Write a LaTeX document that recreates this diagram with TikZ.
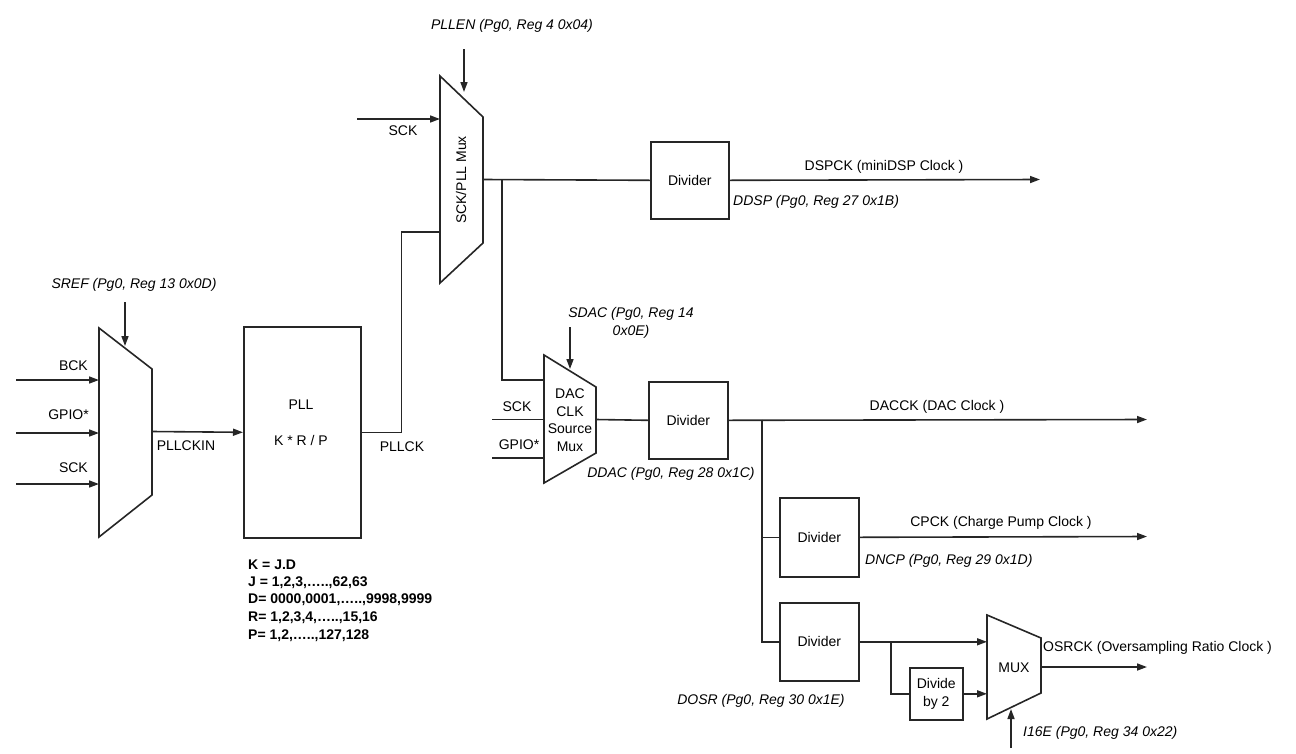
\documentclass[tikz,border=0pt]{standalone}
\usepackage{fontspec}
\setmainfont{Liberation Sans}
\usetikzlibrary{arrows.meta}
\begin{document}
\begin{tikzpicture}[x=1pt,y=-1pt,
  wire/.style={line width=1.6pt, draw=black!85},
  arr/.style={wire,-{Triangle[length=10pt,width=7pt]}},
  box/.style={draw=black!85,line width=1.6pt,inner sep=0pt,anchor=north west},
  lbl/.style={font=\fontsize{14}{17.6}\selectfont,inner sep=0pt},
  reg/.style={font=\fontsize{14}{17.6}\selectfont\itshape,inner sep=0pt},
  eqn/.style={font=\fontsize{14}{17.6}\selectfont\bfseries,inner sep=0pt,anchor=west},
]
\useasboundingbox (0,0) rectangle (1296,753);

% ---------- Mux 1 (SREF) ----------
\coordinate (m1tl) at (99,328);
\coordinate (m1tr) at (152,369);
\coordinate (m1br) at (152,495);
\coordinate (m1bl) at (99,537);
\draw[wire] (m1tl) -- (m1tr) -- (m1br) -- (m1bl) -- cycle;
\coordinate (srefS) at (125,302);
\coordinate (srefE) at (125,346);
\draw[arr] (srefS) -- (srefE);
\node[reg] (sref) at (134,285) {SREF (Pg0, Reg 13 0x0D)};

\coordinate (bckS) at (16,380);  \coordinate (bckE) at (99,380);
\coordinate (gpS) at (16,433);   \coordinate (gpE) at (99,433);
\coordinate (sckS) at (16,484);  \coordinate (sckE) at (99,484);
\draw[arr] (bckS) -- (bckE);
\draw[arr] (gpS) -- (gpE);
\draw[arr] (sckS) -- (sckE);
\node[lbl,anchor=east] (bcklbl) at (88,366) {BCK};
\node[lbl,anchor=east] (gplbl) at (89,415) {GPIO*};
\node[lbl,anchor=east] (scklbl) at (88,468) {SCK};

% ---------- PLL ----------
\node[box,minimum width=117pt,minimum height=211pt] (pll) at (243,326) {};
\node[lbl] (plltxt) at (301,405) {PLL};
\node[lbl] (pllform) at (301,440) {K * R / P};
\coordinate (m1out) at (152,431.5);
\draw[arr] (m1out) -- (pll.west);
\node[lbl] (pllckin) at (186,446) {PLLCKIN};
\node[lbl] (pllck) at (402,447) {PLLCK};

\node[eqn] (e1) at (248,565) {K = J.D};
\node[eqn] (e2) at (248,583) {J = 1,2,3,…..,62,63};
\node[eqn] (e3) at (248,600) {D= 0000,0001,…..,9998,9999};
\node[eqn] (e4) at (248,618) {R= 1,2,3,4,…..,15,16};
\node[eqn] (e5) at (248,636) {P= 1,2,…..,127,128};

% ---------- Mux 2 (SCK/PLL) ----------
\coordinate (m2tl) at (440,76);
\coordinate (m2tr) at (483,117);
\coordinate (m2br) at (483,243);
\coordinate (m2bl) at (440,283);
\draw[wire] (m2tl) -- (m2tr) -- (m2br) -- (m2bl) -- cycle;
\node[lbl,rotate=90] (m2txt) at (461,180) {SCK/PLL Mux};
\coordinate (pllenS) at (464,49);
\coordinate (pllenE) at (464,92);
\draw[arr] (pllenS) -- (pllenE);
\node[reg] (pllen) at (512,26) {PLLEN (Pg0, Reg 4 0x04)};
\coordinate (sck2S) at (357,119);
\coordinate (sck2E) at (440,119);
\draw[arr] (sck2S) -- (sck2E);
\node[lbl] (sck2) at (403,131) {SCK};
\coordinate (m2in2) at (440,232);
\draw[wire] (pll.east) -- ++(40,0) |- (m2in2);

% ---------- DSP divider ----------
\node[box,minimum width=78pt,minimum height=77pt] (dsp) at (650,141) {};
\node[lbl] (dsptxt) at (dsp.center) {Divider};
\coordinate (m2out) at (483,179.5);
\draw[wire] (m2out) -- (dsp.west);
\coordinate (dspE) at (1040,179.5);
\draw[arr] (dsp.east) -- (dspE);
\node[lbl] (dspck) at (884,167) {DSPCK (miniDSP Clock )};
\node[reg,anchor=west] (ddsp) at (733,202) {DDSP (Pg0, Reg 27 0x1B)};

% ---------- Mux 3 (DAC CLK source) ----------
\coordinate (m3tl) at (544,355);
\coordinate (m3tr) at (596,387);
\coordinate (m3br) at (596,453);
\coordinate (m3bl) at (544,483);
\draw[wire] (m3tl) -- (m3tr) -- (m3br) -- (m3bl) -- cycle;
\node[lbl,align=center] (m3txt) at (570,420) {DAC\\CLK\\Source\\Mux};
\coordinate (j1) at (502,179.5);
\coordinate (m3in1) at (544,380);
\draw[wire] (j1) |- (m3in1);
\coordinate (sdacS) at (570,327);
\coordinate (sdacE) at (570,369);
\draw[arr] (sdacS) -- (sdacE);
\node[reg,align=center] (sdac) at (631,323) {SDAC (Pg0, Reg 14\\0x0E)};
\coordinate (sck3S) at (492,419.5);
\coordinate (sck3E) at (544,419.5);
\draw[wire] (sck3S) -- (sck3E);
\node[lbl] (sck3) at (517,407) {SCK};
\coordinate (gp3S) at (492,458);
\coordinate (gp3E) at (544,458);
\draw[wire] (gp3S) -- (gp3E);
\node[lbl] (gp3) at (519,445) {GPIO*};

% ---------- DAC divider ----------
\node[box,minimum width=79pt,minimum height=77pt] (dac) at (648,381) {};
\node[lbl] (dactxt) at (dac.center) {Divider};
\coordinate (m3out) at (596,419.5);
\draw[wire] (m3out) -- (dac.west);
\coordinate (dacE) at (1147,419.5);
\draw[arr] (dac.east) -- (dacE);
\node[reg] (ddac) at (671,474) {DDAC (Pg0, Reg 28 0x1C)};
\node[lbl] (dacck) at (937,407) {DACCK (DAC Clock )};

% ---------- CP divider ----------
\node[box,minimum width=79pt,minimum height=79pt] (cp) at (779,497) {};
\node[lbl] (cptxt) at (cp.center) {Divider};
\coordinate (j2) at (762,419.5);
\draw[wire] (j2 |- cp.west) -- (cp.west);
\coordinate (cpE) at (1147,536.5);
\draw[arr] (cp.east) -- (cpE);
\node[lbl] (cpck) at (1001,523) {CPCK (Charge Pump Clock )};
\node[reg,anchor=west] (dncp) at (865,561) {DNCP (Pg0, Reg 29 0x1D)};

% ---------- OSR divider ----------
\node[box,minimum width=79pt,minimum height=78pt] (osr) at (779,602) {};
\node[lbl] (osrtxt) at (osr.center) {Divider};
\draw[wire] (j2) |- (osr.west);
\node[reg] (dosr) at (761,701) {DOSR (Pg0, Reg 30 0x1E)};

% ---------- Divide by 2 ----------
\node[box,minimum width=53pt,minimum height=52pt] (div2) at (909,667) {};
\node[lbl,align=center] (div2txt) at (div2.center) {Divide\\by 2};

% ---------- Mux 4 ----------
\coordinate (m4tl) at (987,615);
\coordinate (m4tr) at (1041,638);
\coordinate (m4br) at (1041,693);
\coordinate (m4bl) at (987,719);
\draw[wire] (m4tl) -- (m4tr) -- (m4br) -- (m4bl) -- cycle;
\node[lbl] (m4txt) at (1014,668) {MUX};
\draw[arr] (osr.east) -- (osr.east -| m4tl);
\coordinate (j3) at (891,641);
\draw[wire] (j3) |- (div2.west);
\draw[arr] (div2.east) -- (div2.east -| m4tl);
\coordinate (m4out) at (1041,667);
\coordinate (osrE) at (1147,667);
\draw[arr] (m4out) -- (osrE);
\node[lbl,anchor=west] (osrck) at (1043,648) {OSRCK (Oversampling Ratio Clock )};
\coordinate (i16S) at (1011,748);
\coordinate (i16E) at (1011,709);
\draw[arr] (i16S) -- (i16E);
\node[reg,anchor=west] (i16) at (1023,733) {I16E (Pg0, Reg 34 0x22)};
\end{tikzpicture}
\end{document}
